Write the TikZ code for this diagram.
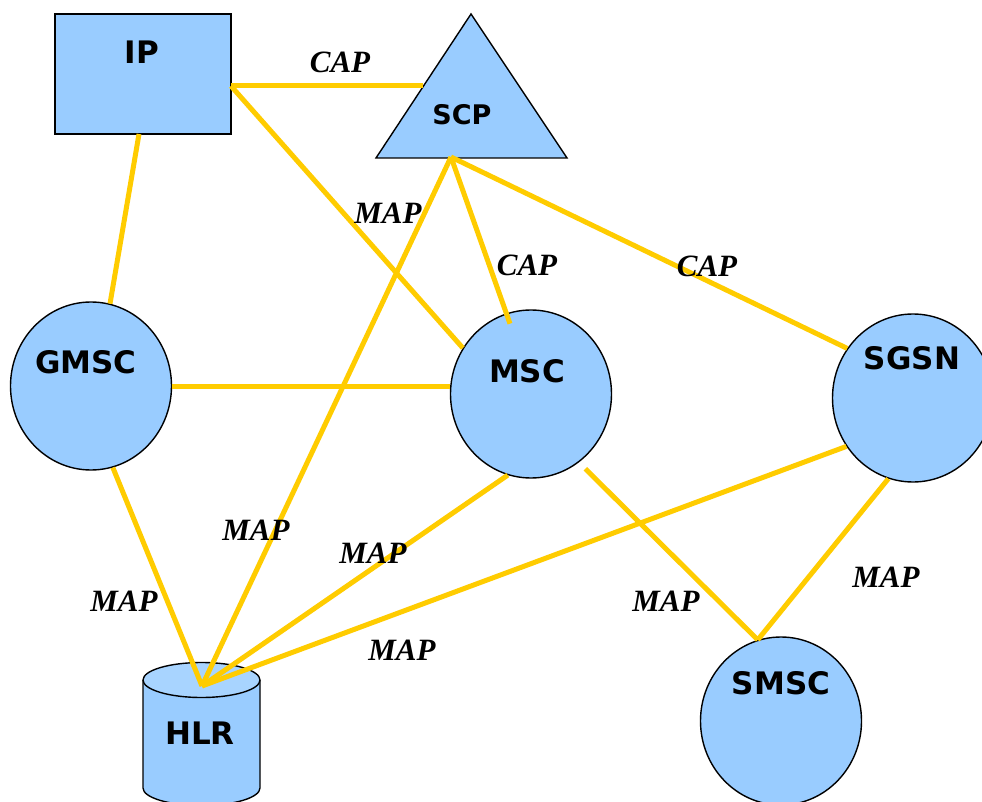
\documentclass[tikz,border=0pt]{standalone}
\usepackage{fontspec}
\setmainfont{Liberation Serif}
\newfontfamily\elemfont{DejaVu Sans}
\usetikzlibrary{shapes.geometric}
\definecolor{nodeblue}{HTML}{99CCFF}
\definecolor{toplight}{HTML}{A8D4FF}
\definecolor{linkyellow}{HTML}{FFCC00}
\begin{document}
\begin{tikzpicture}[x=1pt,y=-1pt,
  element/.style={fill=nodeblue,draw=black,line width=1.4pt},
  station/.style={element,ellipse,minimum width=161pt,minimum height=168pt,inner sep=0pt},
  elemtext/.style={font=\elemfont\bfseries\fontsize{31}{36}\selectfont,inner sep=0pt},
  smalltext/.style={font=\elemfont\bfseries\fontsize{27}{32}\selectfont,inner sep=0pt},
  proto/.style={font=\bfseries\itshape\fontsize{31}{36}\selectfont,inner sep=0pt},
  link/.style={draw=linkyellow,line width=5pt}]

% canvas
\fill[white] (0,0) rectangle (982,802);
\useasboundingbox (0,0) rectangle (982,802);

% IP
\node[element,rectangle,minimum width=176pt,minimum height=120pt,inner sep=0pt] (ip) at (143,74) {};
\node[elemtext] (iptext) at (142,52) {IP};
\coordinate (ipport) at (231,86);
\coordinate (ipfoot) at (139,134);

% SCP triangle
\path[element] (471,14) -- (567,158) -- (376,158) -- cycle;
\node[smalltext] (scp) at (462,115) {SCP};
\coordinate (scpwest) at (423,86);
\coordinate (scpfoot) at (451,157);

% switching centres
\node[station] (gmsc) at (91,386) {};
\node[elemtext] (gmsctext) at (86,362) {GMSC};
\node[station] (msc) at (531,394) {};
\node[elemtext] (msctext) at (527,371) {MSC};
\node[station] (sgsn) at (913,398) {};
\node[elemtext] (sgsntext) at (912,358) {SGSN};
\node[station] (smsc) at (781,721) {};
\node[elemtext] (smsctext) at (781,683) {SMSC};

% HLR database cylinder
\path[element] (143,680) -- (143,788) arc[start angle=180,end angle=0,x radius=58.5,y radius=17.5] -- (260,680);
\fill[toplight] (201.5,680) ellipse[x radius=58.5,y radius=17.5];
\draw[black,line width=1.4pt] (201.5,680) ellipse[x radius=58.5,y radius=17.5];
\node[elemtext] (hlr) at (200,733) {HLR};
\coordinate (hlrtop) at (202,686);
\coordinate (smsctop) at (smsc.106);

% signalling links
\draw[link] (ipport) -- (scpwest);
\draw[link] (ipport) -- (msc.146);
\draw[link] (ipfoot) -- (gmsc.77);
\draw[link] (scpfoot) -- (hlrtop);
\draw[link,shorten >=-11pt] (scpfoot) -- (msc.107);
\draw[link] (scpfoot) -- (sgsn.143.6);
\draw[link] (gmsc.east) -- (gmsc.east -| msc.west);
\draw[link] (gmsc.-75) -- (hlrtop);
\draw[link] (msc.-106) -- (hlrtop);
\draw[link] (sgsn.216) -- (hlrtop);
\draw[link,shorten <=9pt] (msc.-55.6) -- (smsctop);
\draw[link] (sgsn.-107) -- (smsctop);

% protocol labels
\node[proto] (cap1) at (340,62) {CAP};
\node[proto] (map1) at (388,213) {MAP};
\node[proto] (cap2) at (527,265) {CAP};
\node[proto] (cap3) at (707,266) {CAP};
\node[proto] (map2) at (256,530) {MAP};
\node[proto] (map3) at (373,553) {MAP};
\node[proto] (map4) at (124,601) {MAP};
\node[proto] (map5) at (402,650) {MAP};
\node[proto] (map6) at (666,601) {MAP};
\node[proto] (map7) at (886,577) {MAP};
\end{tikzpicture}
\end{document}
